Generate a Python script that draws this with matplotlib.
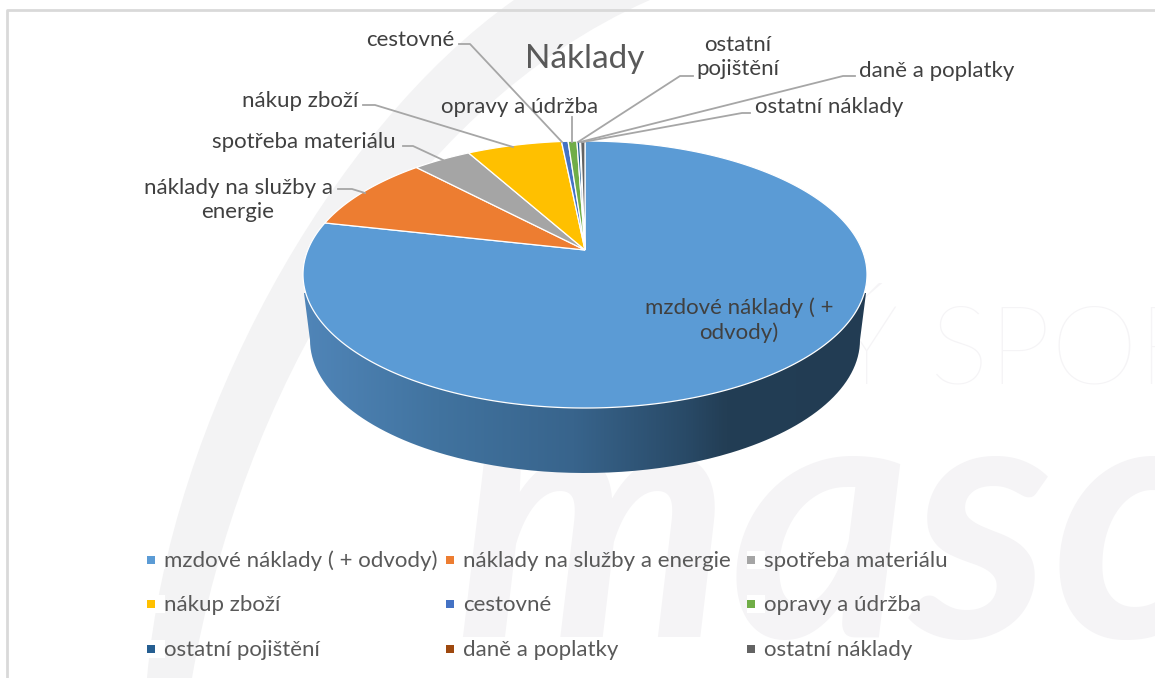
import numpy as np
import matplotlib
matplotlib.use("Agg")
import matplotlib.pyplot as plt
from matplotlib.colors import LinearSegmentedColormap
from matplotlib.patches import PathPatch, Rectangle
from matplotlib.path import Path

plt.rcParams["font.family"] = ["Lato", "DejaVu Sans"]

# Daten (Anteile in %, aus dem Bild geschaetzt)
kategorien = ["mzdové náklady ( + odvody)", "náklady na služby a energie", "spotřeba materiálu",
              "nákup zboží", "cestovné", "opravy a údržba",
              "ostatní pojištění", "daně a poplatky", "ostatní náklady"]
anteile = [78.5, 9.4, 4.0, 6.5, 0.45, 0.6, 0.2, 0.05, 0.3]
farben = ["#5B9BD5", "#ED7D31", "#A5A5A5", "#FFC000", "#4472C4", "#70AD47", "#255E91", "#9E480E", "#636363"]

TEXT = "#404040"
LEGENDE = "#595959"
LINIE = "#A6A6A6"
WASSER = "#F5F4F6"

# Torte in Perspektive
CX, CY = 585, 250
R, H, K = 277.2, 129.0, 0.1836


def rand(winkel):
    # Winkel im Uhrzeigersinn ab 12 Uhr -> Pixel
    u, v = np.sin(winkel), np.cos(winkel)
    f = 1 + K * v
    return CX + R * u / f, CY - H * v / f


fig = plt.figure(figsize=(11.55, 6.78), dpi=100)
ax = fig.add_axes([0, 0, 1, 1])
ax.set_xlim(0, 1155)
ax.set_ylim(678, 0)
ax.axis("off")

# Wasserzeichen im Hintergrund
band = Path([(147, 678), (170, 420), (330, 130), (514, 0), (650, 0), (400, 110), (240, 400), (192, 678), (147, 678)],
            [Path.MOVETO, Path.CURVE4, Path.CURVE4, Path.CURVE4, Path.LINETO,
             Path.CURVE4, Path.CURVE4, Path.CURVE4, Path.CLOSEPOLY])
ax.add_patch(PathPatch(band, facecolor="#F3F3F4", edgecolor="none", zorder=1))
ax.text(455, 637, "masc", fontsize=250, style="italic", weight="bold", color=WASSER, va="baseline", zorder=1, clip_on=True)
ax.text(835, 383, "Ý SPOR", fontsize=80, weight="light", color=WASSER, va="baseline", zorder=1, clip_on=True)

# Rahmen
ax.plot([7, 7, 1155], [678, 10, 10], color="#D9D9D9", linewidth=2, zorder=2)

# Seitenwand mit Verlauf
t = np.linspace(np.pi, 0, 200)
wand_x = np.r_[304, 585 + 275 * np.cos(t), 866]
wand_y = np.r_[293, 340 + 133 * np.sin(t), 293]
verlauf = LinearSegmentedColormap.from_list("wand", [(0, "#5085B8"), (0.24, "#41739F"), (0.48, "#38648C"),
                                                     (0.68, "#294A67"), (0.75, "#233E55"), (1, "#223C53")])
bild = ax.imshow(np.linspace(0, 1, 256)[None, :], extent=(303, 867, 480, 270), cmap=verlauf, aspect="auto", zorder=3)
bild.set_clip_path(PathPatch(Path(np.c_[wand_x, wand_y]), transform=ax.transData))
ax.set_xlim(0, 1155)
ax.set_ylim(678, 0)

# Deckel
kanten = np.r_[0, np.cumsum(anteile)] / sum(anteile) * 2 * np.pi
for i, farbe in enumerate(farben):
    w = np.linspace(kanten[i], kanten[i + 1], max(int(anteile[i] * 6), 4))
    x, y = rand(w)
    ax.fill(np.r_[CX, x], np.r_[CY, y], facecolor=farbe, edgecolor="white", linewidth=0.9, zorder=4)

# Beschriftung
ax.text(585, 59, "Náklady", fontsize=24, color=LEGENDE, ha="center", va="center", zorder=6)
ax.text(739, 320, "mzdové náklady ( +\nodvody)", fontsize=16, color=TEXT, ha="center", va="center",
        linespacing=1.3, zorder=6)

popisky = ["náklady na služby a\nenergie", "spotřeba materiálu", "nákup zboží", "cestovné",
           "opravy a údržba", "ostatní\npojištění", "daně a poplatky", "ostatní náklady"]
popisky_x = [238, 304, 300, 410, 520, 738, 937, 829]
popisky_y = [200, 142, 101, 40, 107, 57, 71, 107]
for s, x, y in zip(popisky, popisky_x, popisky_y):
    ax.text(x, y, s, fontsize=16, color=TEXT, ha="center", va="center", linespacing=1.3, zorder=6)

vodici = [
    ([338, 352, 365], [189, 189, 193]),
    ([403, 413, 443], [146, 146, 160]),
    ([363, 375, 513], [105, 105, 147]),
    ([459, 470, 562], [44, 44, 142]),
    ([572, 572], [117, 142]),
    ([693, 680, 578], [76, 76, 142]),
    ([855, 843, 580], [76, 76, 142]),
    ([750, 742, 583], [113, 113, 142]),
]
for vx, vy in vodici:
    ax.plot(vx, vy, color=LINIE, linewidth=1.3, zorder=5)

# Legende
sloupce = [151, 450, 751]
radky = [560, 604, 649]
for i, (nazev, farba) in enumerate(zip(kategorien, farben)):
    lx, ly = sloupce[i % 3], radky[i // 3]
    ax.add_patch(Rectangle((lx - 4, ly - 9), 18, 18, facecolor="white", edgecolor="none", zorder=5))
    ax.add_patch(Rectangle((lx - 4, ly - 4), 8, 8, facecolor=farba, edgecolor="none", zorder=6))
    ax.text(lx + 13, ly + 1, nazev, fontsize=16, color=LEGENDE, va="center", zorder=6)

fig.savefig("out.png", dpi=100)
